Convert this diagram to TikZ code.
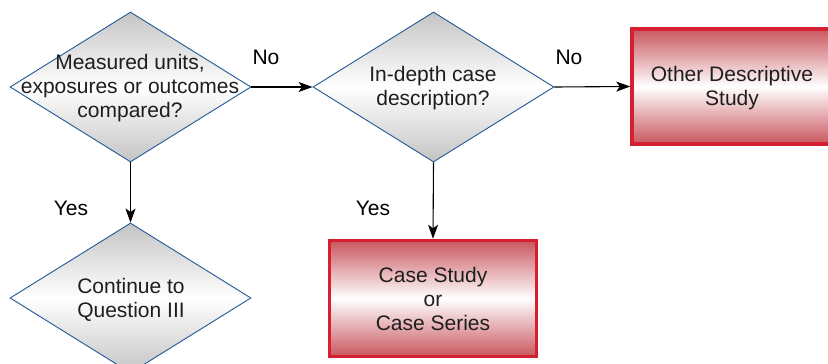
\documentclass[tikz,border=0pt]{standalone}
\usepackage{fontspec}
\setmainfont{Liberation Sans}
\usetikzlibrary{shapes.geometric,arrows.meta}
\definecolor{dblue}{HTML}{1F5A96}
\definecolor{dgray}{HTML}{C4C4C4}
\definecolor{bred}{HTML}{D42030}
\definecolor{pinkd}{HTML}{C9565E}
\definecolor{txt}{HTML}{1E1E1E}
\begin{document}
\begin{tikzpicture}[x=1pt,y=-1pt,
  diam/.style={diamond,draw=dblue,line width=0.9pt,minimum width=241pt,minimum height=150pt,inner sep=0pt,
     top color=dgray,bottom color=dgray,middle color=white,shading=axis},
  redbox/.style={rectangle,draw=bred,line width=3.5pt,inner sep=0pt,
     top color=pinkd,bottom color=pinkd,middle color=white,shading=axis},
  lbl/.style={align=center,font=\fontsize{21}{24}\selectfont,text=txt},
  arr/.style={line width=1.1pt,-{Stealth[length=14pt,width=10pt,inset=3.5pt]}},
  ans/.style={font=\fontsize{21}{24}\selectfont,text=black}]
\useasboundingbox (0,0) rectangle (828,364);
\begin{scope}
\clip (0,0) rectangle (828,364);
\node[diam] (d1) at (130.5,87) {};
\node[diam] (d2) at (433.5,87) {};
\node[diam] (d3) at (130.5,298) {};
\node[redbox,minimum width=201pt,minimum height=115pt] (b1) at (732.5,86.5) {};
\node[redbox,minimum width=207pt,minimum height=116pt] (b2) at (433,298.5) {};
\end{scope}
\node[lbl] (t1) at (130,88) {Measured units,\\exposures or outcomes\\compared?};
\node[lbl] (t2) at (433,88) {In-depth case\\description?};
\node[lbl] (t3) at (131,300) {Continue to\\Question III};
\node[lbl] (t4) at (732,88) {Other Descriptive\\Study};
\node[lbl] (t5) at (433,299) {Case Study\\or\\Case Series};
\draw[arr] (d1.east) -- (d2.west);
\draw[arr] (d2.east) -- (b1.west);
\draw[arr] (d1.south) -- (d3.north);
\draw[arr] (d2.south) -- (b2.north);
\node[ans] (n1) at (266,57) {No};
\node[ans] (n2) at (569,57) {No};
\node[ans] (y1) at (71,208) {Yes};
\node[ans] (y2) at (373,208) {Yes};
\end{tikzpicture}
\end{document}
